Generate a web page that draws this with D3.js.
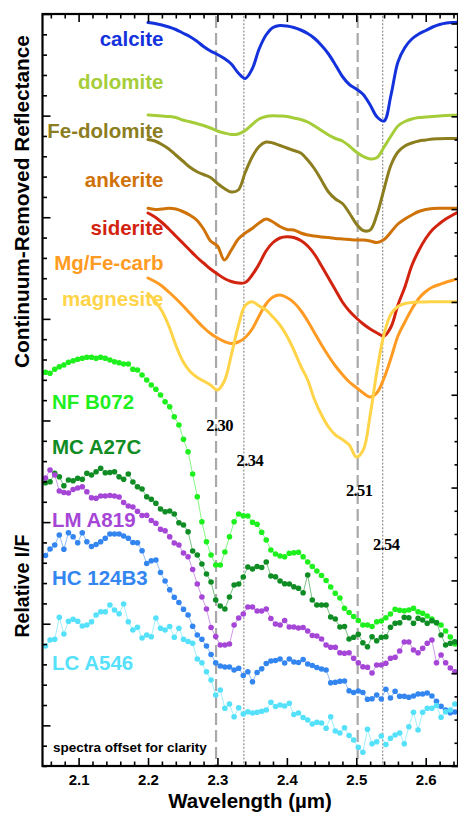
<!DOCTYPE html>
<html><head><meta charset="utf-8">
<script src="https://cdn.jsdelivr.net/npm/d3@7"></script>
<style>body{margin:0;background:#fff;} svg{display:block;}</style>
</head><body><svg id="c" width="458" height="814"></svg>
<script>
// ---------------- DATA ----------------
// Laboratory spectra (continuum-removed, offset), wavelength in µm
const labWl = [2.20,2.21,2.22,2.23,2.24,2.25,2.26,2.27,2.28,2.29,2.30,2.31,2.32,2.33,2.34,2.35,2.36,2.37,2.38,2.39,2.40,2.41,2.42,2.43,2.44,2.45,2.46,2.47,2.48,2.49,2.50,2.51,2.52,2.53,2.54,2.55,2.56,2.57,2.58,2.59,2.60,2.61,2.62,2.63,2.64,2.6465];
const calcite = [7.435,7.425,7.41,7.39,7.365,7.33,7.295,7.25,7.195,7.15,7.115,7.075,7.02,6.93,6.875,6.97,7.17,7.31,7.385,7.405,7.40,7.385,7.36,7.325,7.275,7.205,7.12,7.01,6.895,6.815,6.77,6.715,6.61,6.49,6.45,6.71,7.04,7.185,7.27,7.32,7.355,7.39,7.415,7.43,7.435,7.437];
const dolomite = [6.51,6.505,6.50,6.495,6.485,6.46,6.443,6.425,6.405,6.38,6.35,6.33,6.315,6.32,6.355,6.415,6.47,6.495,6.503,6.50,6.495,6.48,6.465,6.44,6.40,6.355,6.31,6.275,6.25,6.20,6.14,6.095,6.07,6.085,6.19,6.30,6.40,6.445,6.47,6.485,6.49,6.495,6.50,6.505,6.507,6.507];
const feDolomite = [6.265,6.25,6.215,6.17,6.11,6.05,5.99,5.945,5.915,5.885,5.825,5.775,5.74,5.76,5.935,6.09,6.195,6.24,6.23,6.205,6.18,6.155,6.13,6.06,5.97,5.855,5.74,5.67,5.625,5.53,5.42,5.355,5.36,5.52,5.77,6.01,6.14,6.20,6.23,6.25,6.26,6.27,6.273,6.275,6.275,6.275];
const ankerite = [5.577,5.565,5.57,5.577,5.57,5.545,5.51,5.46,5.37,5.25,5.20,5.06,5.16,5.27,5.33,5.375,5.43,5.47,5.44,5.395,5.365,5.36,5.33,5.31,5.30,5.29,5.285,5.275,5.27,5.265,5.26,5.26,5.25,5.235,5.265,5.34,5.42,5.47,5.51,5.545,5.565,5.575,5.577,5.577,5.577,5.577];
const siderite = [5.53,5.49,5.435,5.37,5.30,5.23,5.16,5.09,5.03,4.97,4.92,4.875,4.845,4.83,4.835,4.91,5.02,5.15,5.235,5.28,5.293,5.285,5.255,5.20,5.115,5.00,4.88,4.76,4.64,4.55,4.48,4.42,4.37,4.33,4.30,4.39,4.61,4.79,5.005,5.155,5.275,5.365,5.425,5.475,5.515,5.54];
const mgFeCarb = [4.88,4.845,4.80,4.74,4.675,4.605,4.53,4.455,4.385,4.325,4.28,4.245,4.225,4.24,4.285,4.37,4.50,4.62,4.69,4.71,4.685,4.635,4.555,4.45,4.33,4.21,4.10,4.00,3.915,3.84,3.785,3.73,3.69,3.735,3.88,4.08,4.30,4.44,4.57,4.675,4.745,4.79,4.815,4.84,4.86,4.877];
const magnesite = [4.725,4.65,4.55,4.40,4.21,4.05,3.95,3.89,3.85,3.81,3.76,3.85,4.11,4.40,4.605,4.643,4.60,4.56,4.49,4.41,4.30,4.16,4.00,3.86,3.66,3.51,3.39,3.31,3.265,3.21,3.09,3.16,3.51,3.96,4.32,4.52,4.595,4.625,4.635,4.64,4.64,4.643,4.643,4.643,4.643,4.643];

// CRISM spectra (relative I/F, offset), channel wavelengths in µm
const crismWl = [2.0523,2.0589,2.0656,2.0722,2.0788,2.0854,2.0921,2.0987,2.1053,2.1119,2.1186,2.1252,2.1318,2.1384,2.1451,2.1517,2.1583,2.1649,2.1716,2.1782,2.1848,2.1914,2.1981,2.2047,2.2113,2.2180,2.2246,2.2312,2.2378,2.2445,2.2511,2.2577,2.2643,2.2710,2.2776,2.2842,2.2908,2.2975,2.3041,2.3107,2.3173,2.3240,2.3306,2.3372,2.3438,2.3505,2.3571,2.3637,2.3703,2.3770,2.3836,2.3902,2.3968,2.4035,2.4101,2.4167,2.4234,2.4300,2.4366,2.4432,2.4499,2.4565,2.4631,2.4697,2.4764,2.4830,2.4896,2.4962,2.5029,2.5095,2.5161,2.5227,2.5294,2.5360,2.5426,2.5492,2.5559,2.5625,2.5691,2.5757,2.5824,2.5890,2.5956,2.6022,2.6089,2.6155,2.6221,2.6287,2.6354,2.6420];
const nfB072 = [3.937,3.927,3.967,3.993,4.01,4.037,4.053,4.067,4.077,4.087,4.087,4.077,4.087,4.077,4.06,4.043,4.033,4.02,4.02,3.967,3.96,3.91,3.86,3.81,3.767,3.71,3.643,3.593,3.493,3.41,3.267,3.143,2.92,2.693,2.443,2.243,2.11,2.01,2.01,2.14,2.293,2.443,2.52,2.503,2.50,2.437,2.417,2.337,2.26,2.16,2.12,2.10,2.093,2.127,2.133,2.137,2.093,2.04,1.995,1.95,1.905,1.855,1.79,1.727,1.68,1.577,1.535,1.495,1.455,1.41,1.41,1.395,1.443,1.45,1.483,1.52,1.567,1.557,1.553,1.56,1.577,1.543,1.527,1.50,1.47,1.435,1.41,1.35,1.29,1.22];
const mcA27C = [2.833,2.843,2.927,2.893,2.803,2.86,2.853,2.877,2.867,2.927,2.91,2.943,2.977,2.933,2.935,2.943,2.893,2.867,2.92,2.84,2.793,2.77,2.693,2.667,2.627,2.57,2.543,2.55,2.52,2.433,2.41,2.343,2.15,2.11,2.02,1.92,1.84,1.66,1.60,1.57,1.69,1.81,1.82,1.89,1.99,1.97,1.995,1.985,2.04,1.90,1.893,1.85,1.823,1.82,1.793,1.777,1.733,1.91,1.66,1.61,1.61,1.61,1.49,1.47,1.39,1.395,1.27,1.287,1.317,1.233,1.193,1.293,1.253,1.287,1.293,1.387,1.427,1.433,1.487,1.483,1.427,1.477,1.46,1.427,1.453,1.433,1.31,1.21,1.227,1.243];
const lmA819 = [2.88,2.96,2.91,2.75,2.735,2.73,2.765,2.78,2.793,2.743,2.682,2.677,2.70,2.70,2.705,2.70,2.69,2.635,2.60,2.59,2.547,2.505,2.507,2.455,2.427,2.367,2.353,2.293,2.23,2.21,2.13,2.093,1.965,1.82,1.69,1.57,1.385,1.295,1.21,1.21,1.22,1.41,1.48,1.52,1.59,1.59,1.55,1.55,1.57,1.475,1.42,1.41,1.455,1.39,1.39,1.38,1.385,1.35,1.305,1.30,1.27,1.21,1.187,1.187,1.133,1.127,1.133,1.077,1.033,0.993,0.987,0.93,1.01,1.01,1.027,1.077,1.087,1.15,1.24,1.24,1.16,1.133,1.177,1.227,1.26,1.033,1.11,1.033,0.98,0.943];
const hc124B3 = [2.105,2.17,2.21,2.31,2.167,2.333,2.293,2.233,2.333,2.243,2.195,2.215,2.243,2.277,2.32,2.32,2.32,2.30,2.277,2.235,2.233,2.153,2.025,2.053,2.06,1.935,1.85,1.763,1.687,1.635,1.567,1.51,1.397,1.31,1.267,1.20,1.115,1.033,1.00,0.99,0.99,0.96,0.977,0.905,0.943,0.843,0.935,0.972,1.025,1.05,1.055,1.07,1.03,1.07,1.04,1.035,1.065,1.02,1.005,0.985,0.97,0.96,0.833,0.838,0.848,0.85,0.753,0.735,0.75,0.735,0.667,0.672,0.71,0.67,0.767,0.68,0.748,0.697,0.697,0.687,0.70,0.72,0.72,0.73,0.70,0.648,0.597,0.56,0.533,0.54];
const lcA546 = [1.20,1.26,1.267,1.487,1.32,1.447,1.467,1.447,1.40,1.41,1.443,1.51,1.543,1.543,1.61,1.56,1.523,1.62,1.443,1.36,1.387,1.28,1.31,1.293,1.48,1.377,1.36,1.395,1.287,1.377,1.267,1.245,1.227,1.07,1.033,0.943,0.86,0.71,0.76,0.577,0.62,0.493,0.582,0.52,0.543,0.53,0.538,0.548,0.56,0.638,0.595,0.61,0.60,0.627,0.515,0.53,0.485,0.46,0.42,0.438,0.43,0.377,0.493,0.35,0.33,0.382,0.305,0.26,0.187,0.138,0.367,0.223,0.243,0.30,0.215,0.277,0.31,0.33,0.223,0.393,0.538,0.36,0.538,0.577,0.577,0.605,0.487,0.543,0.56,0.62];

const labNames = ["calcite","dolomite","Fe-dolomite","ankerite","siderite","Mg/Fe-carb","magnesite"];
const crismNames = ["NF B072","MC A27C","LM A819","HC 124B3","LC A546"];
const bandCenters = [2.298, 2.338, 2.502, 2.538];
const bandLabels = ["2.30","2.34","2.51","2.54"];
const xMajorTicks = [2.1,2.2,2.3,2.4,2.5,2.6];
const xTickLabels = ["2.1","2.2","2.3","2.4","2.5","2.6"];

// ---------------- STYLE / LAYOUT ----------------
const labSeries = [calcite, dolomite, feDolomite, ankerite, siderite, mgFeCarb, magnesite];
const crismSeries = [nfB072, mcA27C, lmA819, hc124B3, lcA546];
const labColors = ["#1432dc","#a5cd39","#8c7d1e","#cf7208","#d2230f","#ff9b23","#ffd448"];
const crismColors = ["#1ef01e","#0f8c23","#a546d7","#3385f0","#55e1fa"];
const labLabelY = [46, 88.5, 137.5, 186.5, 235, 269.5, 305.5];
const crismLabelY = [408.5, 453.5, 526.5, 585, 670];
const bandLabelLayout = [{dx:3.5,y:431},{dx:6,y:466},{dx:1.5,y:496},{dx:3.5,y:550}];

const W = 458, H = 814, L = 42.5, R = 458, T = 14, B = 766;
const svg = d3.select("#c");
const x = d3.scaleLinear().domain([2.048, 2.6465]).range([L, R]);
const y = d3.scaleLinear().domain([0, 7.52]).range([B, T]);
const yTickL = d3.scaleLinear().domain([0, 37]).range([B, T]);
const yTickR = d3.scaleLinear().domain([0, 32.41]).range([B, T]);
const SANS = "'Liberation Sans', Arial, sans-serif";
const SERIF = "'Liberation Serif', 'Times New Roman', serif";

svg.append("rect").attr("width", W).attr("height", H).attr("fill", "#fff");
svg.append("defs").append("clipPath").attr("id", "clip")
  .append("rect").attr("x", L).attr("y", T).attr("width", R - L).attr("height", B - T);

// band-centre guide lines
const guides = svg.append("g");
bandCenters.forEach((b, i) => {
  const dashed = (i % 2 === 0);
  guides.append("line")
    .attr("x1", x(b)).attr("x2", x(b)).attr("y1", T + 2).attr("y2", B)
    .attr("stroke", dashed ? "#a9a9a9" : "#9a9a9a")
    .attr("stroke-width", dashed ? 2.2 : 1.3)
    .attr("stroke-dasharray", dashed ? "12,5" : "2,1.6");
});

const plot = svg.append("g").attr("clip-path", "url(#clip)");

// CRISM spectra: thin lines + dots
const linLine = d3.line().x(d => x(d[0])).y(d => y(d[1]));
crismSeries.forEach((s, i) => {
  const pts = crismWl.map((w, j) => [w, s[j]]);
  plot.append("path").attr("d", linLine(pts)).attr("fill", "none")
    .attr("stroke", crismColors[i]).attr("stroke-opacity", 0.55).attr("stroke-width", 1);
  plot.append("g").selectAll("circle").data(pts).join("circle")
    .attr("cx", d => x(d[0])).attr("cy", d => y(d[1])).attr("r", 2.8)
    .attr("fill", crismColors[i]);
});

// Lab spectra
const smooth = d3.line().x(d => x(d[0])).y(d => y(d[1])).curve(d3.curveCatmullRom.alpha(0.5));
labSeries.forEach((s, i) => {
  const pts = labWl.map((w, j) => [w, s[j]]);
  plot.append("path").attr("d", smooth(pts)).attr("fill", "none")
    .attr("stroke", labColors[i]).attr("stroke-width", 3)
    .attr("stroke-linejoin", "round").attr("stroke-linecap", "round");
});

// Axes (ticks inward on all four sides)
const minorX = d3.range(0, 30).map(k => 2.06 + k * 0.02).filter(v => !xMajorTicks.some(m => Math.abs(m - v) < 1e-6));
function styleAxis(g) { g.select(".domain").remove(); g.selectAll("line").attr("stroke", "#000").attr("stroke-width", 1.6); }
svg.append("g").attr("transform", `translate(0,${B})`)
  .call(d3.axisBottom(x).tickValues(minorX).tickSize(-4.5).tickFormat(""))
  .call(styleAxis);
svg.append("g").attr("transform", `translate(0,${B})`)
  .call(d3.axisBottom(x).tickValues(xMajorTicks).tickSize(-8).tickPadding(8.5).tickFormat((d, i) => xTickLabels[i]))
  .call(styleAxis)
  .call(g => g.selectAll("text").attr("font-family", SANS).attr("font-weight", "bold").attr("font-size", 15).attr("fill", "#000"));
svg.append("g").attr("transform", `translate(0,${T})`)
  .call(d3.axisTop(x).tickValues(minorX).tickSize(-4.5).tickFormat("")).call(styleAxis);
svg.append("g").attr("transform", `translate(0,${T})`)
  .call(d3.axisTop(x).tickValues(xMajorTicks).tickSize(-8).tickFormat("")).call(styleAxis);

const leftAll = d3.range(0, 38);
const leftMajor = leftAll.filter(v => (37 - v) % 5 === 0);
svg.append("g").attr("transform", `translate(${L},0)`)
  .call(d3.axisLeft(yTickL).tickValues(leftAll.filter(v => !leftMajor.includes(v))).tickSize(-4.5).tickFormat("")).call(styleAxis);
svg.append("g").attr("transform", `translate(${L},0)`)
  .call(d3.axisLeft(yTickL).tickValues(leftMajor).tickSize(-8).tickFormat("")).call(styleAxis);

const rightAll = d3.range(0, 33);
const rightMajor = rightAll.filter(v => v % 4 === 0);
svg.append("g").attr("transform", `translate(${R},0)`)
  .call(d3.axisRight(yTickR).tickValues(rightAll.filter(v => !rightMajor.includes(v))).tickSize(-3.5).tickFormat("")).call(styleAxis);
svg.append("g").attr("transform", `translate(${R},0)`)
  .call(d3.axisRight(yTickR).tickValues(rightMajor).tickSize(-6.5).tickFormat("")).call(styleAxis);

// frame
svg.append("rect").attr("x", L).attr("y", T).attr("width", R - L).attr("height", B - T)
  .attr("fill", "none").attr("stroke", "#000").attr("stroke-width", 2.2);

// series labels
labNames.forEach((n, i) => {
  svg.append("text").attr("x", 163.5).attr("y", labLabelY[i]).attr("text-anchor", "end")
    .attr("font-family", SANS).attr("font-weight", "bold").attr("font-size", 20.5)
    .attr("fill", labColors[i]).text(n);
});
crismNames.forEach((n, i) => {
  svg.append("text").attr("x", 52).attr("y", crismLabelY[i]).attr("text-anchor", "start")
    .attr("font-family", SANS).attr("font-weight", "bold").attr("font-size", 20.5)
    .attr("fill", crismColors[i]).text(n);
});

// band-centre labels
bandCenters.forEach((b, i) => {
  svg.append("text").attr("x", x(b) + bandLabelLayout[i].dx).attr("y", bandLabelLayout[i].y)
    .attr("text-anchor", "middle").attr("font-family", SERIF).attr("font-weight", "bold")
    .attr("font-size", 16.5).attr("letter-spacing", -0.6).attr("fill", "#000").text(bandLabels[i]);
});

svg.append("text").attr("x", 53).attr("y", 752).attr("font-family", SANS).attr("font-weight", "bold")
  .attr("font-size", 13.5).attr("fill", "#000").text("spectra offset for clarity");

// axis titles
svg.append("text").attr("x", 250).attr("y", 808).attr("text-anchor", "middle")
  .attr("font-family", SANS).attr("font-weight", "bold").attr("font-size", 20.5).attr("fill", "#000")
  .text("Wavelength (µm)");
svg.append("text").attr("transform", "translate(28.5,201.5) rotate(-90)").attr("text-anchor", "middle")
  .attr("font-family", SANS).attr("font-weight", "bold").attr("font-size", 20.8).attr("fill", "#000")
  .text("Continuum-Removed Reflectance");
svg.append("text").attr("transform", "translate(28.5,586) rotate(-90)").attr("text-anchor", "middle")
  .attr("font-family", SANS).attr("font-weight", "bold").attr("font-size", 19.5).attr("fill", "#000")
  .text("Relative I/F");
</script>
</body></html>
